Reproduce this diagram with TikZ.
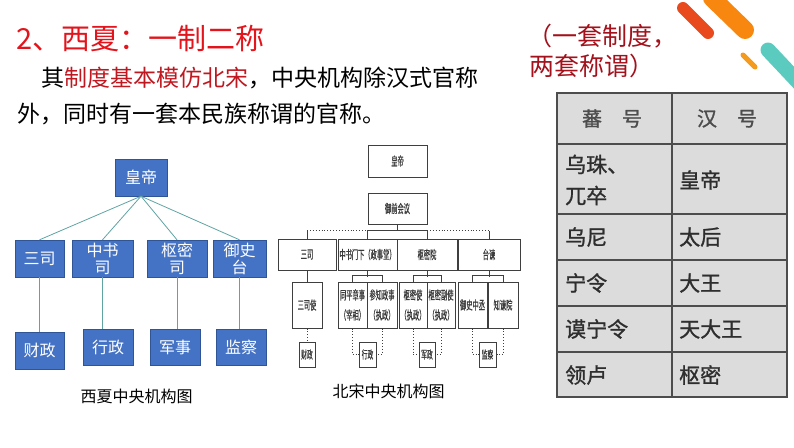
\documentclass[tikz,border=0pt]{standalone}
\usepackage{fontspec}
\setmainfont{Noto Sans CJK SC}
\newfontfamily\narrowfont[FakeStretch=0.52, FakeBold=0.6]{Noto Sans CJK SC}
\newfontfamily\heavyfont[FakeBold=1.2]{Noto Sans CJK SC}
\usepackage{xcolor}
\usetikzlibrary{positioning}

\definecolor{xiablue}{HTML}{4472C4}
\definecolor{xiaedge}{HTML}{2F5597}
\definecolor{xialine}{HTML}{5FA3A3}
\definecolor{titlered}{HTML}{E3141B}
\definecolor{introred}{HTML}{C01820}
\definecolor{notered}{HTML}{A3121C}
\definecolor{tabfill}{HTML}{DCDCDC}
\definecolor{tabline}{HTML}{4D4D4D}
\definecolor{tabtext}{HTML}{2E2E2E}
\definecolor{songgray}{HTML}{3F3F3F}
\definecolor{songtext}{HTML}{3A3A3A}
\definecolor{decored}{HTML}{E8491D}
\definecolor{decoorange}{HTML}{F7870F}
\definecolor{decosmall}{HTML}{F49A1C}
\definecolor{decoteal}{HTML}{5CCBBF}

\begin{document}
\begin{tikzpicture}[
    x=1pt, y=-1pt,
    every node/.style={inner sep=0pt},
    xbox/.style={rectangle, draw=xiaedge, fill=xiablue, text=white, align=center, minimum height=37pt, font=\fontsize{16}{17}\selectfont},
    xline/.style={draw=xialine, line width=0.8pt},
    sbox/.style={rectangle, draw=songgray, line width=1pt, fill=white, text=songtext, align=center, font=\narrowfont\fontsize{12}{20}\selectfont},
    smallbox/.style={sbox, minimum height=25pt, font=\narrowfont\fontsize{11}{12}\selectfont},
    sline/.style={draw=songgray, line width=0.9pt},
    sdot/.style={draw=songgray, line width=0.9pt, dotted},
    cell/.style={anchor=west, text=tabtext, align=left, font=\heavyfont\fontsize{21}{31}\selectfont},
    head/.style={text=tabtext!85, font=\heavyfont\fontsize{20}{22}\selectfont},
    slash/.style={line cap=round},
]
    \useasboundingbox (0,0) rectangle (794,447);

    % --- corner strokes ---
    \draw[slash, line width=12pt, draw=decored] (683,8) -- (708,33);
    \draw[slash, line width=18pt, draw=decoorange] (712,-2) -- (745,30);
    \draw[slash, line width=5pt, draw=decosmall] (743,55) -- (755,67);
    \draw[slash, line width=15pt, draw=decoteal] (768,50) -- (800,84);

    % --- heading and text ---
    \node[anchor=west, text=titlered, font=\fontsize{29}{30}\selectfont] (title) at (16,39) {2、西夏：一制二称};
    \node[anchor=west, font=\fontsize{23}{24}\selectfont] (intro1) at (41,78) {其\textcolor{introred}{制度基本模仿北宋}，中央机构除汉式官称};
    \node[anchor=west, font=\fontsize{23}{24}\selectfont] (intro2) at (17,114) {外，同时有一套本民族称谓的官称。};
    \node[anchor=west, text=notered, font=\fontsize{25}{26}\selectfont] (note1) at (527,36) {（一套制度，};
    \node[anchor=west, text=notered, font=\fontsize{25}{26}\selectfont] (note2) at (529,66) {两套称谓）};

    % --- Western Xia chart ---
    \node[xbox, minimum width=52pt] (xhuangdi) at (141,177.5) {皇帝};
    \node[xbox, minimum width=49pt] (xsansi) at (39.5,258.5) {三司};
    \node[xbox, minimum width=61pt] (xzhongshu) at (102.5,258.5) {中书\\司};
    \node[xbox, minimum width=60pt] (xshumi) at (177,258.5) {枢密\\司};
    \node[xbox, minimum width=53pt] (xyushi) at (239.5,258.5) {御史\\台};
    \node[xbox, minimum width=49pt] (xcaizheng) at (39.5,350.5) {财政};
    \node[xbox, minimum width=50pt, minimum height=36pt] (xxingzheng) at (108,347) {行政};
    \node[xbox, minimum width=50pt, minimum height=36pt] (xjunshi) at (175,347) {军事};
    \node[xbox, minimum width=50pt, minimum height=36pt] (xjiancha) at (241,347) {监察};
    \node[font=\fontsize{16}{17}\selectfont] (xcaption) at (136.5,396) {西夏中央机构图};

    \draw[xline] (xhuangdi.south) -- (xsansi.north);
    \draw[xline] (xhuangdi.south) -- (xzhongshu.north);
    \draw[xline] (xhuangdi.south) -- (xshumi.north);
    \draw[xline] (xhuangdi.south) -- (xyushi.north);
    \draw[xline] (xsansi.south) -- (xcaizheng.north);
    \draw[xline] (xzhongshu.south) -- (xzhongshu.south |- xxingzheng.north);
    \draw[xline] (xshumi.south) -- (xshumi.south |- xjunshi.north);
    \draw[xline] (xyushi.south) -- (xyushi.south |- xjiancha.north);

    % --- Northern Song chart ---
    \node[sbox, minimum width=59pt, minimum height=32pt] (shuangdi) at (397.5,161) {皇帝};
    \node[sbox, minimum width=59pt, minimum height=31pt, below=15pt of shuangdi] (syuqian) {御前会议};
    \node[sbox, minimum width=58pt, minimum height=31pt] (ssansi) at (307,254.5) {三司};
    \node[sbox, minimum width=59pt, minimum height=31pt] (szhongshu) at (367.5,254.5) {中书门下（政事堂）};
    \node[sbox, minimum width=60pt, minimum height=31pt] (sshumi) at (427,254.5) {枢密院};
    \node[sbox, minimum width=62pt, minimum height=31pt] (staijian) at (489,254.5) {台谏};

    \node[sbox, minimum width=30pt, minimum height=46pt] (ssansishi) at (307,305) {三司使};
    \node[sbox, minimum width=29pt, minimum height=46pt] (stongping) at (352.5,305) {同平章事\\（宰相）};
    \node[sbox, minimum width=30pt, minimum height=46pt] (scanzhi) at (382,305) {参知政事\\（执政）};
    \node[sbox, minimum width=28pt, minimum height=46pt] (sshumishi) at (413,305) {枢密使\\（执政）};
    \node[sbox, minimum width=28pt, minimum height=46pt] (sshumifu) at (441,305) {枢密副使\\（执政）};
    \node[sbox, minimum width=29pt, minimum height=46pt] (syushi) at (472.5,305) {御史中丞};
    \node[sbox, minimum width=30pt, minimum height=46pt] (szhijian) at (503,305) {知谏院};

    \node[smallbox, minimum width=16pt] (scaizheng) at (307,354.5) {财政};
    \node[smallbox, minimum width=17pt] (sxingzheng) at (367.5,354.5) {行政};
    \node[smallbox, minimum width=16pt] (sjunzheng) at (427,354.5) {军政};
    \node[smallbox, minimum width=17pt] (sjiancha) at (487.5,354.5) {监察};
    \node[font=\fontsize{16}{17}\selectfont] (scaption) at (388.5,391) {北宋中央机构图};

    \coordinate (bus1) at ([yshift=8pt]ssansi.north);
    \coordinate (bus2) at ([yshift=8pt]szhongshu.north);
    \coordinate (bus3) at ([yshift=8pt]sshumi.north);
    \coordinate (bus4) at ([yshift=8pt]staijian.north);
    \draw[sline] (syuqian.south) -- (syuqian.south |- bus2);
    \draw[sline] (ssansi.north) -- (bus1);
    \draw[sline] (szhongshu.north) -- (bus2) -- (bus3) -- (sshumi.north);
    \draw[sline] (staijian.north) -- (bus4);
    \draw[sdot] (bus1) -- (bus2);
    \draw[sdot] (bus3) -- (bus4);

    \draw[sline] (ssansi.south) -- (ssansishi.north);
    \draw[sline] (stongping.north) -- ++(0,-6) -| (scanzhi.north);
    \draw[sline] (szhongshu.south) -- ++(0,6);
    \draw[sline] (sshumishi.north) -- ++(0,-6) -| (sshumifu.north);
    \draw[sline] (sshumi.south) -- ++(0,6);
    \draw[sline] (syushi.north) -- ++(0,-6) -| (szhijian.north);
    \draw[sline] (staijian.south) -- ++(0,6);

    \draw[sdot] (ssansishi.south) -- (scaizheng.north);
    \draw[sdot] (stongping.south) |- (sxingzheng.west);
    \draw[sdot] (scanzhi.south) |- (sxingzheng.east);
    \draw[sdot] (sshumishi.south) |- (sjunzheng.west);
    \draw[sdot] (sshumifu.south) |- (sjunzheng.east);
    \draw[sdot] (syushi.south) |- (sjiancha.west);
    \draw[sdot] (szhijian.south) |- (sjiancha.east);

    % --- title table ---
    \draw[draw=tabline, line width=1.4pt, fill=tabfill] (557,93) rectangle (787,397);
    \foreach \y in {144,214,260,306,352}
        \draw[draw=tabline, line width=1.1pt] (557,\y) -- (787,\y);
    \draw[draw=tabline, line width=1.1pt] (672,93) -- (672,397);

    \node[head] (fanhead) at (612,118.5) {蕃\hspace{1em}号};
    \node[head] (hanhead) at (727,118.5) {汉\hspace{1em}号};
    \node[cell] (fan1) at (565,180) {乌珠、\\兀卒};
    \node[cell] (han1) at (679,180) {皇帝};
    \node[cell] (fan2) at (565,237) {乌尼};
    \node[cell] (han2) at (679,237) {太后};
    \node[cell] (fan3) at (565,283) {宁令};
    \node[cell] (han3) at (679,283) {大王};
    \node[cell] (fan4) at (565,329) {谟宁令};
    \node[cell] (han4) at (679,329) {天大王};
    \node[cell] (fan5) at (565,375) {领卢};
    \node[cell] (han5) at (679,375) {枢密};

\end{tikzpicture}
\end{document}
